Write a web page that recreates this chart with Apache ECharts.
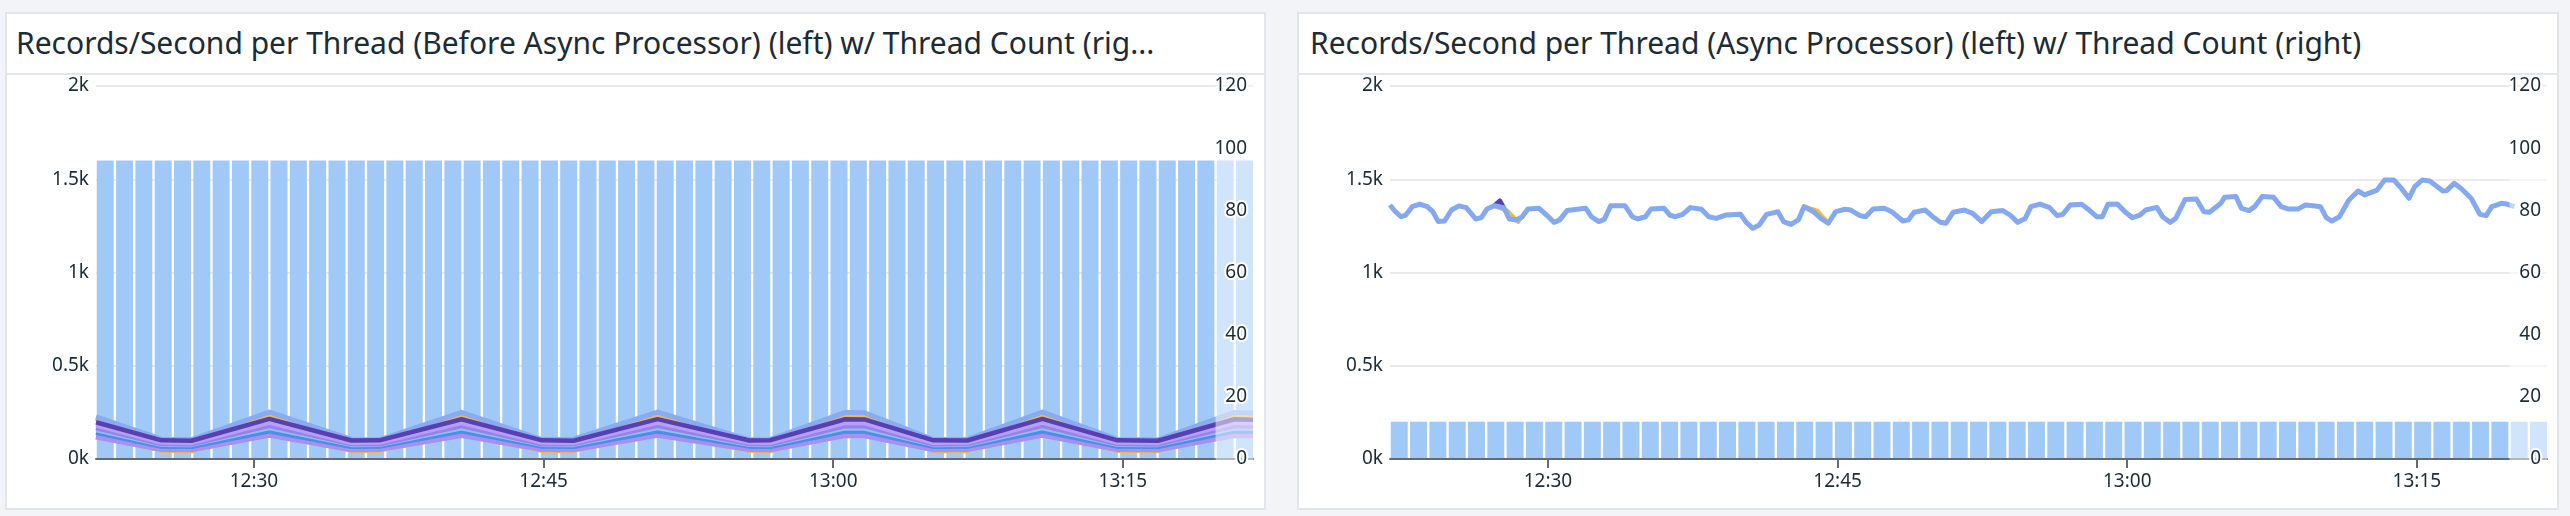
<!DOCTYPE html>
<html><head><meta charset="utf-8">
<script src="https://cdn.jsdelivr.net/npm/echarts@6/dist/echarts.min.js"></script>
<style>
html,body{margin:0;padding:0;background:#f3f4f7;width:2570px;height:516px;overflow:hidden;font-family:'Noto Sans',sans-serif;}
.panel{position:absolute;background:#fff;border:2px solid #e2e5ee;box-sizing:border-box;}
.hdr{position:absolute;left:0;right:0;top:0;height:61px;border-bottom:2px solid #e2e5ee;box-sizing:border-box;}
.ttl{position:absolute;top:14px;font-size:30px;line-height:30px;color:#1c2b34;white-space:nowrap;}
#chart{position:absolute;left:0;top:0;width:2570px;height:516px;}
</style></head>
<body>
<div class="panel" style="left:5px;top:12px;width:1261px;height:498px;"><div class="hdr"></div><div class="ttl" id="t1" style="left:9px;"></div></div>
<div class="panel" style="left:1297px;top:12px;width:1262px;height:498px;"><div class="hdr"></div><div class="ttl" id="t2" style="left:11px;"></div></div>
<div id="chart"></div>
<script>
// ---------- data ----------
const title1 = 'Records/Second per Thread (Before Async Processor) (left) w/ Thread Count (rig...';
const title2 = 'Records/Second per Thread (Async Processor) (left) w/ Thread Count (right)';
const leftTickLabels = ['0k','0.5k','1k','1.5k','2k'];
const timeTickValues = [30,45,60,75];           // minutes after 12:00
const timeTickLabels = ['12:30','12:45','13:00','13:15'];

// one bar per minute
const threadSlots = ['12:22','12:23','12:24','12:25','12:26','12:27','12:28','12:29','12:30','12:31','12:32','12:33','12:34','12:35','12:36','12:37','12:38','12:39','12:40','12:41','12:42','12:43','12:44','12:45','12:46','12:47','12:48','12:49','12:50','12:51','12:52','12:53','12:54','12:55','12:56','12:57','12:58','12:59','13:00','13:01','13:02','13:03','13:04','13:05','13:06','13:07','13:08','13:09','13:10','13:11','13:12','13:13','13:14','13:15','13:16','13:17','13:18','13:19','13:20','13:21'];
const threads1 = [96,96,96,96,96,96,96,96,96,96,96,96,96,96,96,96,96,96,96,96,96,96,96,96,96,96,96,96,96,96,96,96,96,96,96,96,96,96,96,96,96,96,96,96,96,96,96,96,96,96,96,96,96,96,96,96,96,96,96,96];
const threads2 = [12,12,12,12,12,12,12,12,12,12,12,12,12,12,12,12,12,12,12,12,12,12,12,12,12,12,12,12,12,12,12,12,12,12,12,12,12,12,12,12,12,12,12,12,12,12,12,12,12,12,12,12,12,12,12,12,12,12,12,12];

// chart 1 lines (time in minutes after 12:00)
const t1 = [21.82,25.21,26.77,30.80,35.05,36.50,40.75,44.92,46.55,50.90,55.66,56.75,60.62,61.62,65.19,66.95,70.83,74.72,76.82,80.78,81.74];
const c1Yellow   = [216,44,42,240,43,44,238,42,44,239,44,43,238,237,43,42,240,44,43,238,234];
const c1Yellow2  = [120,47,46,132,46,47,131,46,47,132,47,46,131,130,47,46,132,46,47,131,128];
const c1Peri     = [226,106,104,252,105,103,250,104,106,251,103,105,250,248,104,106,252,105,103,250,246];
const c1Lav      = [118,51,50,127,50,51,126,51,50,127,51,50,126,125,50,51,127,51,50,126,124];
const c1Blue     = [140,67,66,149,66,67,148,67,66,149,67,66,148,147,66,67,149,67,66,148,146];
const c1Sky      = [153,74,73,163,73,74,162,74,73,163,74,73,162,161,73,74,163,74,73,162,160];
const c1MidPurp  = [166,80,79,178,80,79,177,79,80,178,80,79,177,176,79,80,178,80,79,177,174];
const c1LightLav = [180,88,87,195,87,88,194,88,87,195,88,87,194,193,87,88,195,88,87,194,191];
const c1Dark     = [197,100,98,215,99,100,213,100,98,214,99,101,213,212,100,99,215,100,98,213,210];

// chart 2 line
const t2 = [21.82,22.10,22.39,22.64,22.97,23.36,23.75,24.04,24.32,24.65,25.00,25.39,25.77,26.26,26.55,26.84,27.22,27.71,28.00,28.38,28.67,28.96,29.54,29.93,30.32,30.61,30.99,31.96,32.25,32.63,32.92,33.25,33.99,34.37,34.66,35.05,35.34,36.02,36.31,36.60,36.98,37.37,37.95,38.33,38.72,39.20,39.98,40.27,40.61,40.94,41.33,41.91,42.20,42.59,42.97,43.26,43.75,44.13,44.52,44.90,45.39,45.68,46.16,46.45,46.84,47.42,47.80,48.38,48.67,48.96,49.54,49.93,50.32,50.61,50.99,51.57,51.99,52.47,52.96,53.55,53.94,54.33,54.72,55.01,55.49,55.98,56.37,56.66,57.05,57.64,58.03,58.42,58.71,59.00,59.49,59.88,60.27,60.66,60.95,61.54,61.83,62.22,62.51,63.00,63.58,63.97,64.26,64.85,65.04,65.63,65.92,66.31,66.60,66.99,67.58,67.97,68.36,68.84,69.23,69.62,70.01,70.31,70.60,70.99,71.48,71.96,72.29,72.94,73.33,73.81,74.20,74.59,74.89,75.28,75.67,76.06,76.35,76.54,76.93,77.32,77.81,78.26,78.59,78.88,79.37,79.66,80.05];
const v2 = [1362,1326,1299,1308,1353,1367,1353,1326,1273,1276,1335,1357,1348,1287,1294,1340,1358,1348,1287,1282,1299,1340,1344,1308,1269,1282,1332,1344,1299,1273,1285,1358,1358,1299,1287,1299,1340,1344,1308,1299,1312,1348,1339,1299,1290,1308,1312,1269,1237,1255,1312,1326,1273,1258,1282,1353,1326,1290,1264,1326,1339,1335,1305,1299,1340,1344,1326,1276,1282,1323,1335,1299,1269,1264,1323,1335,1317,1273,1326,1332,1308,1269,1290,1353,1367,1348,1305,1312,1362,1366,1335,1299,1299,1366,1367,1326,1294,1308,1335,1349,1299,1269,1290,1392,1394,1326,1323,1371,1403,1407,1344,1332,1353,1407,1403,1353,1340,1340,1362,1358,1353,1294,1276,1299,1389,1437,1416,1442,1496,1496,1451,1398,1460,1496,1491,1460,1437,1439,1478,1448,1398,1312,1305,1353,1371,1367,1353];
const purpleT2 = [27.22,27.51,27.71];
const purpleV2 = [1358,1385,1348];
const yellowT2 = [27.22,27.90,28.45,28.96,null,43.26,43.95,44.52,null,59.49,59.95,60.27];
const yellowV2 = [1358,1330,1272,1340,null,1353,1330,1264,null,1367,1320,1294];

const incompleteFrom = 79.8;

// ---------- rendering ----------
document.getElementById('t1').textContent = title1;
document.getElementById('t2').textContent = title2;

const XMIN = 21.82, XMAX = 81.74;
const FONT = 'Noto Sans';
const TXT = '#1c2b34';
const AX = '#646a76';
function toMin(s){const p=s.split(':');return (+p[0]-12)*60 + (+p[1]);}
function pairs(ts, vs){return ts.map((t,i)=> t==null ? ['-','-'] : [t, vs[i]]);}

const grids = [
  {left:96, top:86, width:1157, height:373, outerBoundsMode:'none'},
  {left:1390, top:86, width:1157, height:373, outerBoundsMode:'none'}
];
const xAxes = grids.map((g,gi)=>({
  type:'value', gridIndex:gi, min:XMIN, max:XMAX, z:3,
  splitLine:{show:false},
  axisLine:{show:true, onZero:false, lineStyle:{color:AX, width:2}},
  axisTick:{show:true, customValues:timeTickValues, length:9, lineStyle:{color:AX, width:2}},
  axisLabel:{customValues:timeTickValues, formatter:v=>timeTickLabels[timeTickValues.indexOf(v)] || '',
    color:TXT, fontSize:19, fontFamily:FONT, margin:13}
}));
const yAxes = [];
grids.forEach((g,gi)=>{
  yAxes.push({type:'value', gridIndex:gi, min:0, max:2000, interval:500, position:'left',
    axisLine:{show:false}, axisTick:{show:false},
    splitLine:{show:true, lineStyle:{color:'#e3e3e3', width:1.5}},
    axisLabel:{formatter:v=>leftTickLabels[Math.round(v/500)], color:TXT, fontSize:19, fontFamily:FONT, margin:7}});
  yAxes.push({type:'value', gridIndex:gi, min:0, max:120, interval:20, position:'right', z:20,
    axisLine:{show:false}, axisTick:{show:false}, splitLine:{show:false},
    axisLabel:{inside:true, margin:6, color:TXT, fontSize:19, fontFamily:FONT,
      textBorderColor:'#ffffff', textBorderWidth:4}});
});

function bars(gi, vals){
  return {type:'bar', xAxisIndex:gi, yAxisIndex:gi*2+1, barWidth:17, z:1, silent:true,
    itemStyle:{color:'#a1c9f7'},
    data: threadSlots.map((s,i)=>[toMin(s)+0.3, vals[i]])};
}
function line(gi, ts, vs, color, w){
  return {type:'line', xAxisIndex:gi, yAxisIndex:gi*2, showSymbol:false, symbol:'none', z:2,
    connectNulls:false, silent:true,
    lineStyle:{color:color, width:w, join:'round'}, itemStyle:{color:color},
    data: pairs(ts, vs)};
}
function overlay(gi){
  return {type:'custom', xAxisIndex:gi, yAxisIndex:gi*2, z:10, silent:true, clip:false,
    encode:{x:[0,1], y:2},
    data:[[incompleteFrom, XMAX, 0]],
    renderItem:(params, api)=>{
      const p0 = api.coord([api.value(0), 2000]);
      const p1 = api.coord([api.value(1), 0]);
      return {type:'rect', shape:{x:p0[0], y:p0[1], width:p1[0]-p0[0], height:p1[1]-p0[1]+3},
        style:{fill:'rgba(255,255,255,0.5)'}};
    }};
}

const series = [
  bars(0, threads1),
  line(0, t1, c1Yellow, '#ebbf47', 4.5),
  line(0, t1, c1Yellow2, '#ebbf47', 4.5),
  line(0, t1, c1Peri, '#8aaaf2', 5),
  line(0, t1, c1Lav, '#a98ef5', 5),
  line(0, t1, c1Blue, '#4a8fe0', 4.5),
  line(0, t1, c1Sky, '#8cc0f2', 3.5),
  line(0, t1, c1MidPurp, '#9a7ff0', 4.5),
  line(0, t1, c1LightLav, '#b5a0f5', 4.5),
  line(0, t1, c1Dark, '#5840b4', 4.5),
  overlay(0),
  bars(1, threads2),
  line(1, purpleT2, purpleV2, '#5840b4', 4.5),
  line(1, yellowT2, yellowV2, '#ebbf47', 4.5),
  line(1, t2, v2, '#84a9f1', 5),
  overlay(1)
];

const chart = echarts.init(document.getElementById('chart'), null, {renderer:'canvas'});
chart.setOption({
  animation:false,
  backgroundColor:'transparent',
  grid:grids, xAxis:xAxes, yAxis:yAxes, series:series
});
</script>
</body></html>
